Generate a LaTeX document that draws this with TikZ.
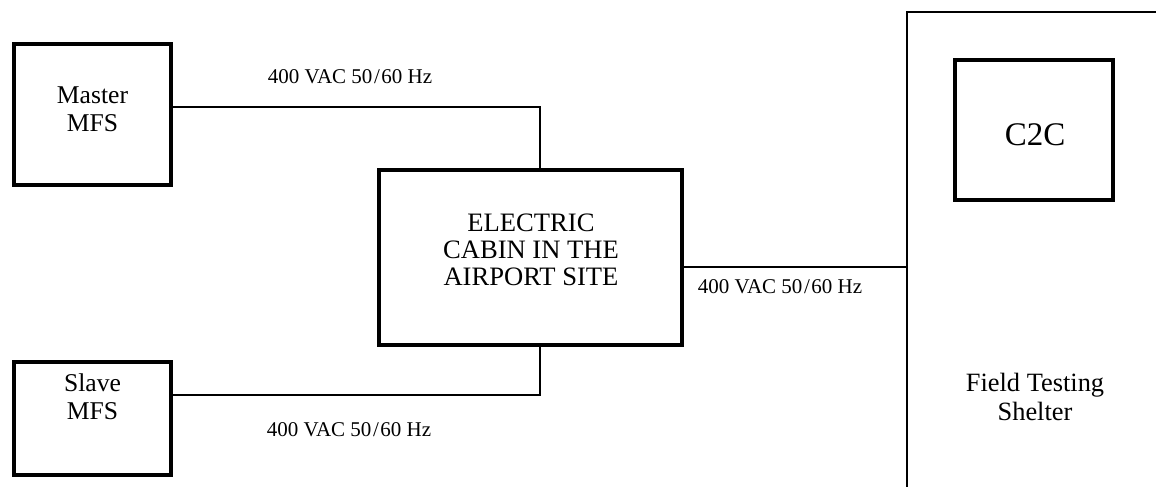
\documentclass[tikz,border=0pt]{standalone}
\usepackage{fontspec}
\setmainfont{Liberation Serif}
\newcommand{\volt}{400 VAC 50\kern0.8pt/\kern0.8pt60 Hz}
\begin{document}
\begin{tikzpicture}[x=0.5pt,y=-0.5pt,
  box/.style={draw,line width=1.8pt,inner sep=0pt},
  wire/.style={line width=1.3pt},
  txt/.style={align=center,inner sep=0pt,font=\fontsize{12.8}{14}\selectfont},
  lbl/.style={inner sep=0pt,font=\fontsize{10.5}{12}\selectfont}]
\useasboundingbox (0,0) rectangle (1156,487);
% boxes
\node[box,minimum width=78.6pt,minimum height=70.7pt] (master) at (92.5,114.5) {};
\node[box,minimum width=78.6pt,minimum height=56.7pt] (slave) at (92.5,418.5) {};
\node[box,minimum width=151.7pt,minimum height=87.5pt] (cabin) at (530.5,257.5) {};
\node[box,minimum width=79.2pt,minimum height=70.2pt] (c2c) at (1034,130) {};
\coordinate (shelter) at (907,12);
% texts
\node[txt] (mastertxt) at (92.5,109) {Master\\MFS};
\node[txt] (slavetxt) at (92.5,397) {Slave\\MFS};
\node[txt,font=\fontsize{13.3}{13.5}\selectfont] (cabintxt) at (531,250) {ELECTRIC\\CABIN IN THE\\AIRPORT SITE};
\node[txt,font=\fontsize{16.5}{18}\selectfont] (c2ctxt) at (1035,135) {C2C};
\node[txt,font=\fontsize{13.2}{14.5}\selectfont] (sheltertxt) at (1035,397) {Field Testing\\Shelter};
% connectors
\draw[wire] (master.east |- 0,107) -| ([xshift=4.75pt]cabin.north);
\draw[wire] (slave.east |- 0,395) -| ([xshift=4.75pt]cabin.south);
\draw[wire] (cabin.east |- 0,267) -- (shelter |- 0,267);
\draw[wire] (1160,12) -- (shelter) -- (907,490);
% labels
\node[lbl] (lbltop) at (350,77) {\volt};
\node[lbl] (lblright) at (780,287) {\volt};
\node[lbl] (lblbot) at (349,430) {\volt};
\end{tikzpicture}
\end{document}
